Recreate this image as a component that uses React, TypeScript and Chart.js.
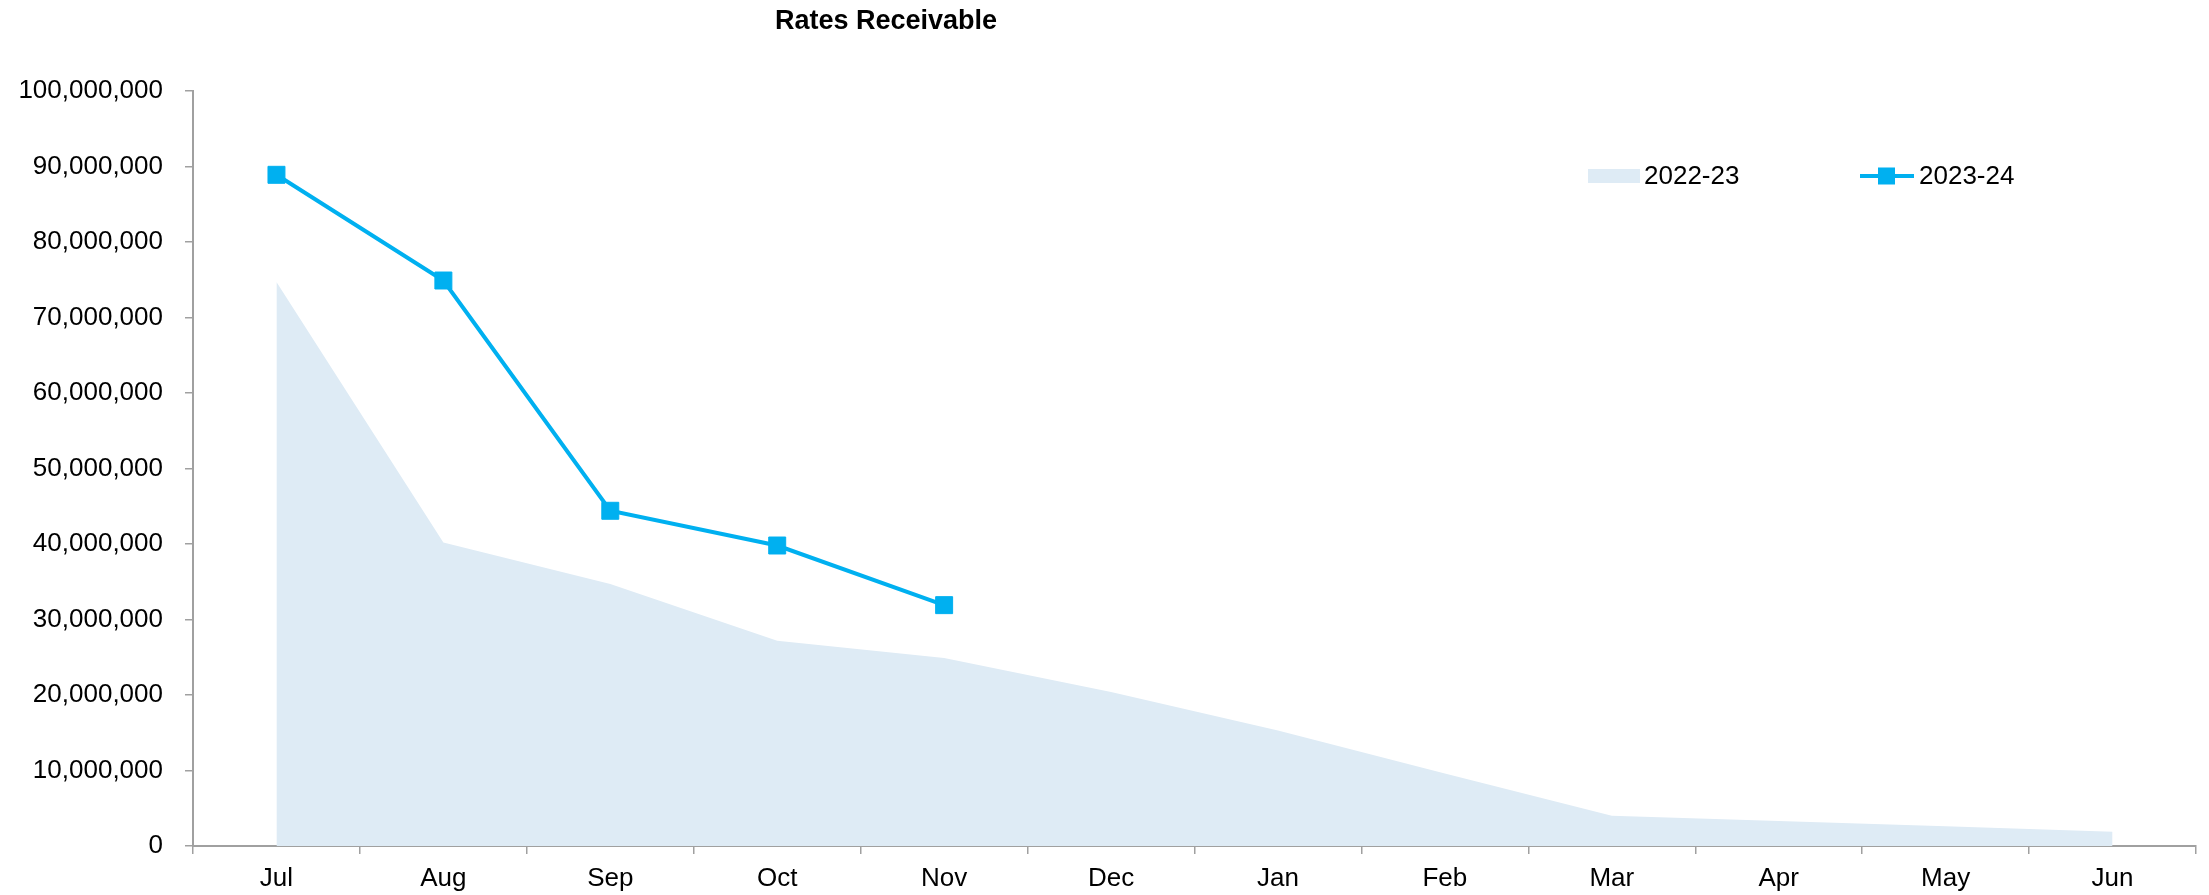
import React, { useEffect, useRef } from 'react';
import { Chart, registerables } from 'chart.js';

Chart.register(...registerables);

const titleText = 'Rates Receivable';
const months = ['Jul', 'Aug', 'Sep', 'Oct', 'Nov', 'Dec', 'Jan', 'Feb', 'Mar', 'Apr', 'May', 'Jun'];
const label2223 = '2022-23';
const label2324 = '2023-24';
const values2223 = [74700000, 40200000, 34700000, 27200000, 24900000, 20400000, 15300000, 9600000, 4000000, 3300000, 2600000, 1900000];
const values2324 = [88900000, 74900000, 44400000, 39800000, 31900000, null, null, null, null, null, null, null];
const yMin = 0;
const yMax = 100000000;
const yStep = 10000000;

const FONT = 'Arial, "Liberation Sans", sans-serif';
const AREA_COLOR = '#DEEBF5';
const LINE_COLOR = '#00B0F0';
const AXIS_COLOR = '#A0A0A0';

const titlePlugin = {
  id: 'customTitle',
  afterDraw(chart: any) {
    const ctx = chart.ctx;
    ctx.save();
    ctx.font = `bold 27px ${FONT}`;
    ctx.fillStyle = '#000';
    ctx.textAlign = 'center';
    ctx.textBaseline = 'alphabetic';
    ctx.fillText(titleText, 886, 29);
    ctx.restore();
  },
};

const legendPlugin = {
  id: 'customLegend',
  afterDraw(chart: any) {
    const ctx = chart.ctx;
    const ds = chart.data.datasets;
    ctx.save();
    ctx.font = `26px ${FONT}`;
    ctx.textAlign = 'left';
    ctx.textBaseline = 'alphabetic';
    // item 1: area swatch
    ctx.fillStyle = ds[0].backgroundColor;
    ctx.fillRect(1588, 169, 52, 14);
    ctx.fillStyle = '#000';
    ctx.fillText(ds[0].label, 1644, 184);
    // item 2: line with square marker
    ctx.strokeStyle = ds[1].borderColor;
    ctx.lineWidth = ds[1].borderWidth;
    ctx.beginPath();
    ctx.moveTo(1860, 176);
    ctx.lineTo(1914, 176);
    ctx.stroke();
    ctx.fillStyle = ds[1].pointBackgroundColor;
    ctx.fillRect(1878, 167.5, 17, 17);
    ctx.fillStyle = '#000';
    ctx.fillText(ds[1].label, 1919, 184);
    ctx.restore();
  },
};

export default function App() {
  const canvasRef = useRef<HTMLCanvasElement | null>(null);

  useEffect(() => {
    const canvas = canvasRef.current;
    if (!canvas) return;
    const chart = new Chart(canvas, {
      type: 'line',
      data: {
        labels: months,
        datasets: [
          {
            label: label2223,
            data: values2223,
            backgroundColor: AREA_COLOR,
            borderColor: AREA_COLOR,
            borderWidth: 0,
            fill: 'origin',
            pointRadius: 0,
            tension: 0,
            order: 1,
          },
          {
            label: label2324,
            data: values2324,
            borderColor: LINE_COLOR,
            backgroundColor: LINE_COLOR,
            pointBackgroundColor: LINE_COLOR,
            pointBorderColor: LINE_COLOR,
            pointBorderWidth: 1,
            borderWidth: 4,
            fill: false,
            pointStyle: 'rect',
            pointRadius: 12,
            tension: 0,
            spanGaps: false,
            order: 0,
          },
        ],
      },
      options: {
        responsive: false,
        maintainAspectRatio: false,
        animation: false,
        devicePixelRatio: 1,
        layout: { padding: { left: 0, right: 4, top: 91, bottom: 0 } },
        plugins: {
          legend: { display: false },
          title: { display: false },
          tooltip: { enabled: false },
        },
        scales: {
          x: {
            type: 'category',
            offset: true,
            afterFit: (s: any) => {
              s.height = 49;
            },
            grid: {
              offset: true,
              drawOnChartArea: false,
              drawTicks: true,
              tickLength: 8,
              color: AXIS_COLOR,
              lineWidth: 1.5,
            },
            border: { display: true, color: AXIS_COLOR, width: 2 },
            ticks: {
              color: '#000',
              font: { family: FONT, size: 26 },
              padding: 9,
              maxRotation: 0,
              autoSkip: false,
            },
          },
          y: {
            min: yMin,
            max: yMax,
            afterFit: (s: any) => {
              s.width = 193;
            },
            grid: {
              drawOnChartArea: false,
              drawTicks: true,
              tickLength: 8,
              color: AXIS_COLOR,
              lineWidth: 1.5,
            },
            border: { display: true, color: AXIS_COLOR, width: 2 },
            ticks: {
              stepSize: yStep,
              color: '#000',
              font: { family: FONT, size: 26 },
              padding: 22,
              callback: (v: any) => Number(v).toLocaleString('en-US'),
            },
          },
        },
      },
      plugins: [titlePlugin, legendPlugin],
    });
    return () => chart.destroy();
  }, []);

  return (
    <div style={{ position: 'absolute', left: 0, top: 0, width: 2209, height: 895, background: '#fff' }}>
      <canvas ref={canvasRef} width={2209} height={895} style={{ display: 'block', width: 2209, height: 895 }} />
    </div>
  );
}
